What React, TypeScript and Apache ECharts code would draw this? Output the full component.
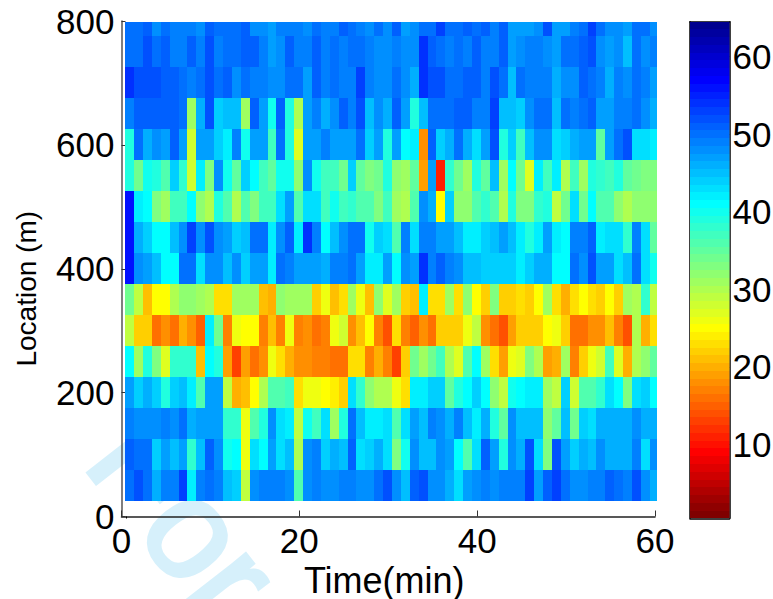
import React, { useEffect, useRef } from "react";
import * as echarts from "echarts";

const rowCentres = [800, 750, 700, 650, 600, 550, 500, 450, 400, 350, 300, 250, 200, 150, 100, 50];
const row800 = [49.5,49.5,50.5,47.5,49.5,48.5,48.5,48.5,47.5,50.5,49.5,50,49.5,50.5,47.5,47.5,46.5,48.5,48.5,48.5,47.5,49.5,48.5,48.5,50.5,49.5,49,47.5,49.5,47.5,51,47,47.5,50,50,52.5,50,50,51,50,51,48.5,50.5,46.5,46.5,46.5,47.5,51.5,46.5,47,49,50,52.5,50,48,48,47,50,50,47.5];
const row750 = [49.5,49.5,51.5,50,51,48.5,48.5,50.5,48.5,51.5,49,50,50,50.5,51,49,46.5,48,51,48.5,48.5,51,49,49.5,49,49.5,49.5,49,47.5,47.5,48.5,48,48,53.5,50.5,49.5,49,50,49,51,49,49,51,46.5,48,48.5,48.5,48,46.5,49.5,49.5,50.5,52,47.5,47,47.5,45,50,47.5,48.5];
const row700 = [53.5,52,52,51.5,51,51,50,48.5,50,52,49.5,50.5,48,49.5,49,48.5,48,47.5,50,50,47,50.5,49,50,49,48.5,52.5,49,48,47.5,49.5,48,46,53.5,52,52,49.5,49.5,50.5,50.5,48.5,51.5,49.5,44.5,49.5,48.5,49,48.5,45.5,47.5,47.5,51,50,49,46,48.5,48,50,49,46.5];
const row650 = [48.5,50.5,50.5,50.5,50.5,50.5,49.5,30.5,45.5,51.5,44,44.5,44.5,31,51,46.5,39.5,50.5,38.5,30,46.5,48.5,46,47.5,50.5,48.5,51.5,44.5,48,46,50.5,47,38.5,44.5,50,50,50,51,51,48.5,48.5,52.5,44.5,44.5,44,47.5,50,50,44.5,49.5,48.5,49.5,50.5,46.5,46.5,48.5,49,49.5,47.5,45.5];
const row600 = [38.5,50,45.5,48,47,50.5,46.5,28,46.5,47,43.5,41.5,48.5,39.5,47,46.5,36.5,50,38.5,27,47,47,48.5,47,46.5,46.5,50,43.5,47,38.5,47,40.5,42,18,50.5,43.5,46,49.5,45.5,42.5,46.5,52,38.5,44,36.5,44.5,48,47.5,43,43.5,45.5,46.5,46.5,34.5,47,49.5,51.5,42.5,42.5,41.5];
const row550 = [38.5,33.5,40,38.5,35.5,44,37.5,28,42,32.5,47.5,39.5,34.5,43.5,40.5,36.5,34.5,39.5,39.5,32,47.5,39.5,36.5,36.5,33.5,43.5,34.5,32.5,33.5,38.5,32,31,34.5,18.5,47,11,37.5,33.5,30.5,39,34.5,44.5,30.5,40.5,33.5,26.5,41.5,36.5,41.5,29.5,36.5,31,38.5,38,37,38.5,34.5,33.5,32.5,32.5];
const row500 = [55.5,41.5,41,32.5,30.5,36.5,36.5,40.5,31.5,29.5,38.5,36,29.5,35.5,32.5,36.5,36.5,43,46.5,35.5,43,43,36.5,39.5,36.5,37.5,35.5,35.5,33,36.5,30.5,30,35.5,47.5,46,24.5,43.5,31.5,31.5,35.5,37.5,35.5,29.5,38.5,32.5,32.5,37.5,38.5,28.5,33.5,42.5,33.5,40.5,35.5,35.5,31.5,29.5,31.5,32,32];
const row450 = [56,46,44,41,41,44.5,48,52.5,48,52,47.5,47,44,44.5,49.5,50,41.5,48,50.5,41.5,53.5,48.5,41,44.5,47.5,50,50,40,44,43,35.5,48.5,42.5,48.5,48.5,46.5,47,44.5,42,42,44,44.5,46.5,44.5,42,38.5,42,47,42,40.5,49,49,50.5,41.5,43,43,38,49,42.5,34.5];
const row400 = [55.5,47.5,47,45,41,41,50,50,42.5,48,47.5,44.5,47.5,43.5,47,47,42,50,49,47,47,47,46,48.5,49,49.5,47,42,42,47,40.5,48,46.5,53.5,49,51,49,48,44.5,44.5,44,44,43.5,43.5,42,43.5,46,46,40.5,40.5,50,48,52,46.5,47,43,45,50,43,39.5];
const row350 = [33.5,29,21,24.5,24.5,30,31.5,31.5,31,30,22.5,22.5,31,30.5,30.5,20.5,19.5,31.5,31,31,31,21.5,26,21,23,30.5,26,21,31.5,27,30.5,21.5,21,42,22.5,22.5,31,22.5,31.5,24.5,21.5,32.5,22,22,22.5,22,24.5,30.5,22.5,19.5,23,24.5,23,22,24.5,22,30.5,29.5,37.5,28.5];
const row300 = [28.5,22,22,15.5,18,16,19.5,18,15,41.5,33.5,17,26,24.5,24.5,17,20.5,17,26,17,17.5,16,16.5,26,28,18,21,24.5,16.5,14,22.5,16.5,15,18,16,21.5,21.5,21.5,26,28.5,17.5,15.5,14,18.5,21.5,21.5,21.5,24.5,26,22,16,16,18,18,20.5,17,14,29.5,19.5,22.5];
const row250 = [40.5,31,38.5,32.5,26.5,37.5,37.5,37.5,20.5,40.5,38.5,18.5,13,18.5,15.5,17.5,26,22.5,20,17.5,18,17,16.5,15.5,15.5,23,23,17,19.5,16.5,12.5,21.5,33.5,30.5,33.5,36.5,29.5,27,35.5,40.5,31,22.5,18.5,26,27,32.5,30,18.5,19.5,31,16.5,21.5,26,27.5,36.5,26.5,20,29.5,31.5,34.5];
const row200 = [47,43.5,46,43.5,38.5,43.5,45,41.5,35.5,47,47,28.5,19.5,21,24.5,29.5,35.5,35.5,36.5,23,26,26,24.5,24,22,42.5,37.5,31.5,29.5,30,26,23,41.5,41.5,44,44,34.5,38.5,41,44,41,31.5,28.5,39.5,40.5,41.5,41.5,30.5,29,44,27.5,35.5,35.5,37.5,42.5,40.5,32.5,42.5,43.5,41];
const row150 = [48.5,47.5,48,48,48.5,48,49.5,46,47,47,47,37.5,37.5,26,35.5,38.5,47.5,42.5,41.5,28.5,39.5,36.5,42.5,31,38.5,50,45,41.5,41.5,43,35.5,42.5,47,45,49,48,45.5,48.5,44.5,42,46,38.5,34.5,48,45,45,45,31.5,34.5,45,33.5,44,42.5,45.5,45.5,45.5,45.5,47.5,46,46];
const row100 = [50.5,50,50,43.5,47,44.5,46.5,37.5,45,50.5,47.5,39.5,41,26,42.5,41,47,42.5,44.5,29.5,47.5,48.5,43.5,45.5,44.5,50.5,42.5,43.5,45.5,42.5,32.5,39.5,48,44.5,44.5,47.5,47,40.5,35.5,43,50.5,46.5,38.5,48,45.5,52,43,32.5,52,47,43.5,45.5,44.5,47.5,45.5,45.5,45.5,48.5,43,47.5];
const row050 = [49.5,51.5,50,46,48.5,48.5,52.5,41.5,48.5,49.5,49,45,43.5,29,47.5,48.5,49,49,48,35.5,47.5,49,48,48,48.5,48.5,47.5,47.5,49.5,51.5,47.5,45,50.5,51.5,47.5,47.5,46,42.5,46.5,48,48.5,48,49,49,49,52.5,47,50.5,52.5,49.5,48,48,49,48.5,50.5,50,48.5,51.5,47.5,45.5];
const rows = [row800,row750,row700,row650,row600,row550,row500,row450,row400,row350,row300,row250,row200,row150,row100,row050];
const colourTicks = [10, 20, 30, 40, 50, 60];
const colourLevels = Array.from({ length: 64 }, (_, i) => i + 1);

function jet(v: number): string {
  const level = Math.min(64, Math.max(1, Math.ceil(v)));
  const n = 65 - level;
  const b = n <= 8 ? 0.5 + n / 16 : n <= 24 ? 1 : n <= 40 ? 1 - (n - 24) / 16 : 0;
  const g = n <= 8 ? 0 : n <= 24 ? (n - 8) / 16 : n <= 40 ? 1 : n <= 56 ? 1 - (n - 40) / 16 : 0;
  const r = n <= 24 ? 0 : n <= 40 ? (n - 24) / 16 : n <= 56 ? 1 : 1 - (n - 56) / 16;
  const c = (x: number) => Math.round(x * 255);
  return `rgb(${c(r)},${c(g)},${c(b)})`;
}

const cells: number[][] = [];
rows.forEach((vals, r) => vals.forEach((v, c) => cells.push([c, rowCentres[r], v])));

const FONT = "'Liberation Sans', Arial, sans-serif";
const LABEL = 35;

export default function App() {
  const ref = useRef<HTMLDivElement>(null);
  useEffect(() => {
    const chart = echarts.init(ref.current!, undefined, { renderer: "svg" });
    chart.setOption({
      animation: false,
      backgroundColor: "#fff",
      graphic: [
        { type: "text", z: -1, x: 119.6, y: 433.8, rotation: -0.908, silent: true,
          style: { text: "For", fontFamily: FONT, fontSize: 140, fill: "#d6f0fb", stroke: "#d6f0fb", lineWidth: 4, verticalAlign: "middle" } },
        { type: "line", z: 5, shape: { x1: 126.5, y1: 516.5, x2: 126.5, y2: 518.5 }, style: { stroke: "#000", lineWidth: 1 } },
      ],
      grid: [
        { left: 121.5, top: 21, width: 533.5, height: 495.5, outerBoundsMode: "none" },
        { left: 690, top: 21.7, width: 39.5, height: 496.6, outerBoundsMode: "none" },
      ],
      xAxis: [
        { type: "value", gridIndex: 0, min: 0, max: 60, interval: 20, name: "Time(min)", nameLocation: "middle", nameGap: 43,
          nameTextStyle: { fontFamily: FONT, fontSize: 36, color: "#000", padding: [0, 8, 0, 0] },
          axisLine: { show: true, onZero: false, lineStyle: { color: "#222", width: 1.5 } },
          axisTick: { inside: true, length: 6, lineStyle: { color: "#333" } },
          axisLabel: { fontFamily: FONT, fontSize: LABEL, color: "#000", margin: 6, hideOverlap: false }, splitLine: { show: false } },
        { type: "value", gridIndex: 1, min: 0, max: 1, position: "bottom", axisLabel: { show: false }, axisTick: { show: false },
          axisLine: { show: true, lineStyle: { color: "#000", width: 1.5 } }, splitLine: { show: false } },
        { type: "value", gridIndex: 1, min: 0, max: 1, position: "top", axisLabel: { show: false }, axisTick: { show: false },
          axisLine: { show: true, lineStyle: { color: "#000", width: 1.5 } }, splitLine: { show: false } },
      ],
      yAxis: [
        { type: "value", gridIndex: 0, min: 0, max: 800, interval: 200, name: "Location (m)", nameLocation: "middle", nameGap: 81,
          nameTextStyle: { fontFamily: FONT, fontSize: 28, color: "#000", padding: [0, 40, 0, 0] },
          axisLine: { show: true, onZero: false, lineStyle: { color: "#555", width: 1.5 } },
          axisTick: { inside: true, length: 4, lineStyle: { color: "#333" } },
          axisLabel: { fontFamily: FONT, fontSize: LABEL, color: "#000", margin: 7, hideOverlap: false }, splitLine: { show: false } },
        { type: "value", gridIndex: 1, min: 0.5, max: 64.5, position: "left",
          axisLine: { show: true, onZero: false, lineStyle: { color: "#000", width: 1.5 } },
          axisTick: { inside: true, length: 5, customValues: colourTicks, lineStyle: { color: "#222" } },
          axisLabel: { show: false }, splitLine: { show: false } },
        { type: "value", gridIndex: 1, min: 0.5, max: 64.5, position: "right",
          axisLine: { show: true, onZero: false, lineStyle: { color: "#000", width: 1.5 } },
          axisTick: { inside: true, length: 5, customValues: colourTicks, lineStyle: { color: "#222" } },
          axisLabel: { fontFamily: FONT, fontSize: LABEL, color: "#000", margin: 3, customValues: colourTicks, hideOverlap: false }, splitLine: { show: false } },
      ],
      series: [
        {
          type: "custom", xAxisIndex: 0, yAxisIndex: 0, clip: false, data: cells, z: 2, silent: true,
          renderItem: (_p: any, api: any) => {
            const col = api.value(0), centre = api.value(1);
            const tl = api.coord([col + 0.42, Math.min(centre + 25, 798.5)]);
            const br = api.coord([Math.min(col + 1.42, 60.25), centre - 25]);
            const x = Math.round(tl[0]), y = Math.round(tl[1]);
            return { type: "rect", shape: { x, y, width: Math.round(br[0]) - x, height: Math.round(br[1]) - y },
              style: { fill: jet(api.value(2)), stroke: null } };
          },
        },
        {
          type: "custom", xAxisIndex: 1, yAxisIndex: 1, data: colourLevels.map((l) => [l]), z: 2, silent: true, encode: { y: 0 },
          renderItem: (_p: any, api: any) => {
            const l = api.value(0);
            const tl = api.coord([0, l + 0.5]);
            const br = api.coord([1, l - 0.5]);
            const y = Math.round(tl[1]);
            return { type: "rect", shape: { x: tl[0], y, width: br[0] - tl[0], height: Math.round(br[1]) - y },
              style: { fill: jet(l), stroke: null } };
          },
        },
      ],
    });
    return () => chart.dispose();
  }, []);
  return <div ref={ref} style={{ position: "absolute", left: 0, top: 0, width: 773, height: 599 }} />;
}
